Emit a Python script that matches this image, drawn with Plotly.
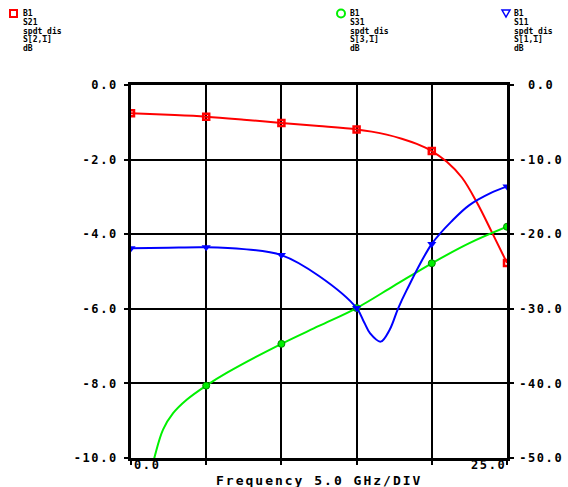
import plotly.graph_objects as go

# ---- data -----------------------------------------------------------------
# S21 trace (left axis, dB): curve samples and marker samples
s21_freq = [0.0, 2.5, 5.0, 7.5, 10.0, 12.5, 15.0, 16.0, 17.0, 18.0, 19.0, 20.0,
            21.0, 22.0, 23.0, 24.0, 25.0]
s21_db = [-0.76, -0.80, -0.85, -0.93, -1.02, -1.10, -1.19, -1.25, -1.33, -1.44,
          -1.58, -1.77, -2.06, -2.48, -3.15, -3.95, -4.77]
s21_mark_freq = [0.0, 5.0, 10.0, 15.0, 20.0, 25.0]
s21_mark_db = [-0.76, -0.85, -1.02, -1.19, -1.77, -4.77]

# S31 trace (right axis, dB)
s31_freq = [0.0, 1.55, 2.13, 2.8, 3.7, 5.0, 6.36, 10.0, 12.5, 15.0, 17.5, 20.0,
            22.5, 25.0]
s31_db = [-63.0, -50.0, -46.2, -44.0, -42.2, -40.3, -38.6, -34.7, -32.3, -29.9,
          -26.9, -23.9, -21.2, -19.0]
s31_mark_freq = [0.0, 5.0, 10.0, 15.0, 20.0, 25.0]
s31_mark_db = [-63.0, -40.3, -34.7, -29.9, -23.9, -19.0]

# S11 trace (right axis, dB)
s11_freq = [0.0, 2.5, 5.0, 7.5, 10.0, 12.5, 15.0, 15.5, 15.9, 16.6,
            17.2, 17.75, 18.33, 20.0, 21.4, 22.5, 23.9, 25.0]
s11_db = [-21.9, -21.8, -21.75, -22.0, -22.8, -25.6, -29.9, -31.8,
          -33.3, -34.4, -32.8, -30.0, -27.5, -21.3, -18.1, -16.1, -14.5, -13.6]
s11_mark_freq = [0.0, 5.0, 10.0, 15.0, 20.0, 25.0]
s11_mark_db = [-21.9, -21.75, -22.8, -29.9, -21.3, -13.6]

# axis ticks
x_ticks = [0, 5, 10, 15, 20, 25]
y_left_ticks = [0, -2, -4, -6, -8, -10]
y_left_text = ["0.0", "-2.0", "-4.0", "-6.0", "-8.0", "-10.0"]
y_right_ticks = [0, -10, -20, -30, -40, -50]
y_right_text = ["\u00a00.0", "-10.0", "-20.0", "-30.0", "-40.0", "-50.0"]
x_end_labels = ["0.0", "25.0"]
x_title = "Frequency 5.0 GHz/DIV"

# legend blocks: lines of text for each trace
leg_s21 = ["B1", "S21", "spdt_dis", "S[2,1]", "dB"]
leg_s31 = ["B1", "S31", "spdt_dis", "S[3,1]", "dB"]
leg_s11 = ["B1", "S11", "spdt_dis", "S[1,1]", "dB"]

RED, GREEN, BLUE = "#ff0000", "#00f000", "#0000ff"

# ---- geometry helpers (pixel -> paper) -----------------------------------
W, H = 568, 487
X0, X1 = 131, 507
YT, YB = 85, 458


def px(x):
    return (x - X0) / (X1 - X0)


def py(y):
    return (YB - y) / (YB - YT)


MONO = "DejaVu Sans Mono"


def spaced(t, sp=1.6):
    return f'<span style="letter-spacing:{sp}px">{t}</span>'


fig = go.Figure()

fig.add_trace(go.Scatter(x=s31_freq, y=s31_db, yaxis="y2", mode="lines",
                         line=dict(color=GREEN, width=2, shape="spline", smoothing=1.0)))
fig.add_trace(go.Scatter(x=s31_mark_freq, y=s31_mark_db, yaxis="y2", mode="markers",
                         marker=dict(symbol="circle", size=7, color=GREEN,
                                     line=dict(color="#008800", width=1))))

fig.add_trace(go.Scatter(x=s11_freq, y=s11_db, yaxis="y2", mode="lines",
                         line=dict(color=BLUE, width=2, shape="spline", smoothing=1.0)))
fig.add_trace(go.Scatter(x=s11_mark_freq, y=s11_mark_db, yaxis="y2", mode="markers",
                         marker=dict(symbol="triangle-down", size=8, color=BLUE)))

fig.add_trace(go.Scatter(x=s21_freq, y=s21_db, yaxis="y", mode="lines",
                         line=dict(color=RED, width=2, shape="spline", smoothing=1.0)))
fig.add_trace(go.Scatter(x=s21_mark_freq, y=s21_mark_db, yaxis="y", mode="markers",
                         marker=dict(symbol="square-open", size=6, color=RED,
                                     line=dict(color=RED, width=2.5))))

tickfont = dict(family=MONO, size=12, color="black", weight="bold")

fig.update_layout(
    width=W, height=H,
    margin=dict(l=X0, r=W - X1, t=YT, b=H - YB, autoexpand=False),
    paper_bgcolor="white", plot_bgcolor="white",
    showlegend=False,
    xaxis=dict(range=[0, 25], tickvals=x_ticks, showticklabels=False,
               ticks="outside", ticklen=4, tickwidth=2, tickcolor="black",
               showgrid=True, gridcolor="black", gridwidth=2,
               showline=True, linecolor="black", linewidth=2.5, mirror=True,
               zeroline=False),
    yaxis=dict(range=[-10, 0], tickvals=y_left_ticks,
               ticktext=[spaced(t) for t in y_left_text], tickfont=tickfont,
               ticks="outside", ticklen=4, tickwidth=2, tickcolor="black",
               ticklabelstandoff=4,
               showgrid=True, gridcolor="black", gridwidth=2,
               showline=True, linecolor="black", linewidth=2.5, mirror=True,
               zeroline=False),
    yaxis2=dict(range=[-50, 0], overlaying="y", side="right",
                tickvals=y_right_ticks,
                ticktext=[spaced(t) for t in y_right_text], tickfont=tickfont,
                ticks="outside", ticklen=4, tickwidth=2, tickcolor="black",
                ticklabelstandoff=3,
                showgrid=False, showline=True, linecolor="black", linewidth=2.5,
                zeroline=False),
)

ann = []
# x end labels
ann.append(dict(x=px(132), y=py(465), xref="paper", yref="paper", xanchor="left",
                yanchor="middle", text=spaced(x_end_labels[0]), showarrow=False,
                font=tickfont))
ann.append(dict(x=px(508), y=py(465), xref="paper", yref="paper", xanchor="right",
                yanchor="middle", text=spaced(x_end_labels[1]), showarrow=False,
                font=tickfont))
ann.append(dict(x=px(319), y=py(480), xref="paper", yref="paper", xanchor="center",
                yanchor="middle", text=spaced(x_title, 2), showarrow=False,
                font=dict(family=MONO, size=13, color="black", weight="bold")))

legfont = dict(family=MONO, size=8, color="black", weight="bold")
line_y = [13.5, 22.3, 31.1, 39.9, 48.7]
for x_text, lines in ((21, leg_s21), (348, leg_s31), (512, leg_s11)):
    for yy, t in zip(line_y, lines):
        ann.append(dict(x=px(x_text), y=py(yy), xref="paper", yref="paper",
                        xanchor="left", yanchor="middle", text=t, showarrow=False,
                        font=legfont))
fig.update_layout(annotations=ann)

# legend symbols
shapes = [
    dict(type="rect", xref="paper", yref="paper", x0=px(10), x1=px(17),
         y0=py(17), y1=py(10), line=dict(color=RED, width=2)),
    dict(type="circle", xref="paper", yref="paper", x0=px(337), x1=px(345),
         y0=py(17.5), y1=py(9.5), line=dict(color=GREEN, width=2)),
    dict(type="path", xref="paper", yref="paper",
         path=f"M {px(502)} {py(10)} L {px(510)} {py(10)} L {px(506)} {py(17)} Z",
         line=dict(color=BLUE, width=1.5)),
]
fig.update_layout(shapes=shapes)

fig.write_html("out.html")
